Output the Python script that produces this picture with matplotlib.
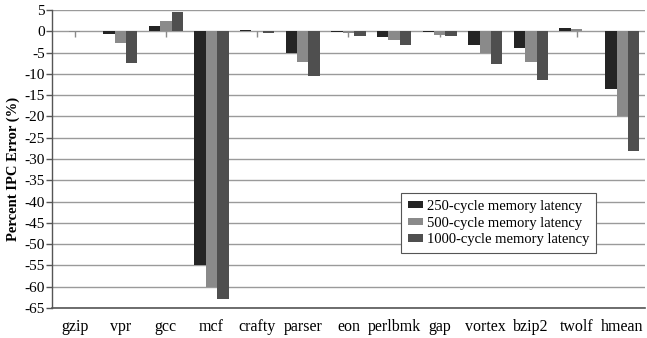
import numpy as np
import matplotlib.pyplot as plt

plt.rcParams['font.family'] = ['Liberation Serif', 'DejaVu Serif']
plt.rcParams['axes.unicode_minus'] = False

benchmarks = ["gzip", "vpr", "gcc", "mcf", "crafty", "parser", "eon",
              "perlbmk", "gap", "vortex", "bzip2", "twolf", "hmean"]
lat_250 = [0.1, -0.7, 1.3, -55.0, 0.4, -5.0, -0.1, -1.3, -0.1, -3.1, -3.9, 0.7, -13.5]
lat_500 = [-0.1, -2.8, 2.4, -60.0, 0.2, -7.2, -0.3, -2.0, -0.8, -5.0, -7.2, 0.5, -20.0]
lat_1000 = [0.05, -7.5, 4.5, -62.8, -0.3, -10.4, -1.0, -3.2, -1.1, -7.7, -11.5, 0.2, -28.1]

series = [
    ("250-cycle memory latency", lat_250, "#242424"),
    ("500-cycle memory latency", lat_500, "#8a8a8a"),
    ("1000-cycle memory latency", lat_1000, "#4f4f4f"),
]

fig = plt.figure(figsize=(6.47, 3.38), dpi=100)
ax = fig.add_axes([0.080, 0.089, 0.917, 0.881])

x = np.arange(len(benchmarks))
width = 0.25

# horizontal grid + zero line with small category ticks
for v in range(-65, 6, 5):
    ax.axhline(v, color="#9a9a9a", lw=1.0, zorder=0)
ax.vlines(x, -1.3, 0, color="#8a8a8a", lw=1.0, zorder=1)

for i, (name, vals, col) in enumerate(series):
    ax.bar(x + (i - 1) * width, vals, width, color=col, label=name, zorder=2)

ax.set_xlim(-0.5, len(benchmarks) - 0.5)
ax.set_ylim(-65, 5)
ax.set_yticks(range(-65, 6, 5))
ax.set_xticks(x)
ax.set_xticklabels(benchmarks, fontsize=11.5)
ax.tick_params(axis="x", length=0, pad=8)
ax.tick_params(axis="y", direction="out", length=4, width=1, color="#555555",
               labelsize=11, pad=1)

for s in ["top", "right"]:
    ax.spines[s].set_visible(False)
ax.spines["left"].set_color("#555555")
ax.spines["bottom"].set_color("#555555")
ax.spines["left"].set_linewidth(1.0)
ax.spines["bottom"].set_linewidth(1.2)

ax.set_ylabel("Percent IPC Error (%)", fontsize=10.5, fontweight="bold")
ax.yaxis.set_label_coords(-0.054, 0.466)

leg = ax.legend(loc="lower left", bbox_to_anchor=(0.589, 0.185), fontsize=10.5,
                frameon=True, fancybox=False, framealpha=1, edgecolor="#555555",
                handlelength=1.05, handleheight=0.4, handletextpad=0.25,
                borderpad=0.45, labelspacing=0.25, borderaxespad=0)
leg.get_frame().set_linewidth(0.8)

fig.savefig("out.png", dpi=100)
